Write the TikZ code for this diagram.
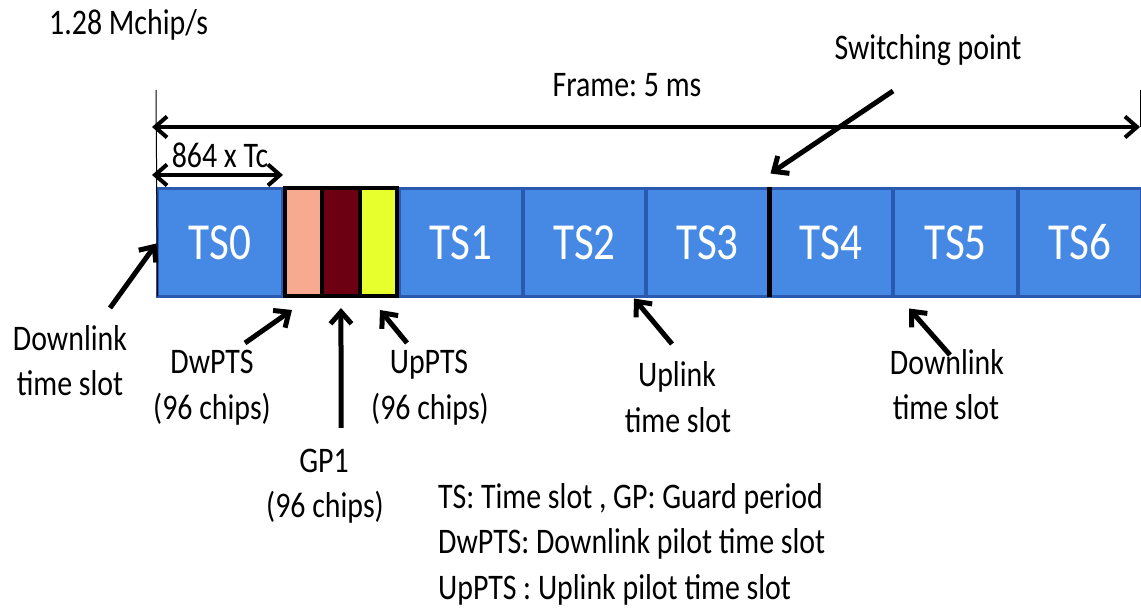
\documentclass[tikz,border=0pt]{standalone}
\usepackage{fontspec}
\setmainfont{Carlito}[FakeStretch=0.83]
\usetikzlibrary{arrows.meta}
\frenchspacing

\definecolor{slotblue}{RGB}{70,137,228}
\definecolor{slotedge}{RGB}{42,90,175}
\definecolor{dwcol}{RGB}{247,170,143}
\definecolor{gpcol}{RGB}{108,0,18}
\definecolor{upcol}{RGB}{230,255,45}

\begin{document}
\begin{tikzpicture}[x=1pt,y=-1pt,
  slot/.style={draw=slotedge, line width=3.5pt, fill=slotblue, minimum height=108pt,
    inner sep=0pt, outer sep=0pt, text=white, font=\fontsize{52}{52}\selectfont, anchor=north west},
  special/.style={draw=black, line width=4pt, minimum height=108pt, minimum width=37.33pt,
    inner sep=0pt, outer sep=0pt, anchor=north west},
  lbl/.style={font=\fontsize{36}{45}\selectfont, inner sep=0pt, anchor=base},
  legend/.style={font=\fontsize{36}{45}\selectfont, inner sep=0pt, anchor=base west},
  barb/.tip={Straight Barb[length=12pt,width=21pt]},
  pointer/.style={line width=5pt, -barb},
  span/.style={line width=4pt, barb-barb},
  guide/.style={line width=1pt}]

\useasboundingbox (0,0) rectangle (1141,609);

% time slots of the subframe
\node[slot, minimum width=125pt] (ts0) at (157.5,188.5) {TS0};
\node[special, fill=dwcol] (dw) at (285,188) {};
\node[special, fill=gpcol] (gp) at (dw.north east) {};
\node[special, fill=upcol] (up) at (gp.north east) {};
\node[slot, minimum width=124pt] (ts1) at (399,188.5) {TS1};
\node[slot, minimum width=123pt] (ts2) at (523,188.5) {TS2};
\node[slot, minimum width=123pt] (ts3) at (646,188.5) {TS3};
\node[slot, minimum width=124pt] (ts4) at (769,188.5) {TS4};
\node[slot, minimum width=125pt] (ts5) at (893,188.5) {TS5};
\node[slot, minimum width=124pt] (ts6) at (1018,188.5) {TS6};
% black outline round the three special slots
\draw[line width=4pt] (dw.north west) rectangle (up.south east);

% switching point
\draw[line width=5pt] ([shift={(0,-1)}]ts3.north east) -- ([shift={(0,1)}]ts3.south east);

% frame and slot extents
\coordinate (fl) at (156,90);
\coordinate (fr) at (1140,90);
\coordinate (fa) at (152,127);
\coordinate (fb) at (1140,127);
\draw[guide] (fl) -- (ts0.south west);
\draw[guide] (fr) -- (fb);
\draw[span] (fa) -- (fb);
\coordinate (ta) at (152,175);
\coordinate (tb) at (283,175);
\draw[span] (ta) -- (tb);

% texts
\node[lbl, anchor=base west] (rate) at (49,35) {1.28 Mchip/s};
\node[lbl] (frame) at (627,97) {Frame: 5 ms};
\node[lbl] (tc) at (220,168) {864 x Tc};
\node[lbl] (swp) at (928,60) {Switching point};

\node[lbl] (dlA) at (70,351) {Downlink};
\node[lbl] (dlB) at (70,396) {time slot};
\node[lbl] (dwA) at (212,374) {DwPTS};
\node[lbl] (dwB) at (212,420) {(96 chips)};
\node[lbl] (gpA) at (324,472) {GP1};
\node[lbl] (gpB) at (325,517) {(96 chips)};
\node[lbl] (upA) at (429,374) {UpPTS};
\node[lbl] (upB) at (430,420) {(96 chips)};
\node[lbl] (ulA) at (677,387) {Uplink};
\node[lbl] (ulB) at (678,433) {time slot};
\node[lbl] (drA) at (947,375) {Downlink};
\node[lbl] (drB) at (946,420) {time slot};

\node[legend] (lg1) at (438,508) {TS: Time slot , GP: Guard period};
\node[legend] (lg2) at (438,553) {DwPTS: Downlink pilot time slot};
\node[legend] (lg3) at (438,599) {UpPTS : Uplink pilot time slot};

% pointers
\coordinate (swt) at (893,91);
\draw[pointer] (swt) -- ([shift={(1.5,-15)}]ts3.north east);
\coordinate (dlt) at (110,308);
\draw[pointer] (dlt) -- ([shift={(-1,-53)}]ts0.south west);
\coordinate (dwt) at (245,343);
\draw[pointer] (dwt) -- ([shift={(7,14)}]dw.south west);
\coordinate (gpt) at (341,428);
\draw[pointer] (gpt) -- ([shift={(0,12)}]gp.south);
\coordinate (upt) at (407,343);
\draw[pointer] (upt) -- ([shift={(-17,14)}]up.south east);
\coordinate (ult) at (672,344);
\draw[pointer] (ult) -- ([shift={(-12,2)}]ts2.south east);
\coordinate (drt) at (950,355);
\draw[pointer] (drt) -- ([shift={(16,12)}]ts4.south east);
\end{tikzpicture}
\end{document}
